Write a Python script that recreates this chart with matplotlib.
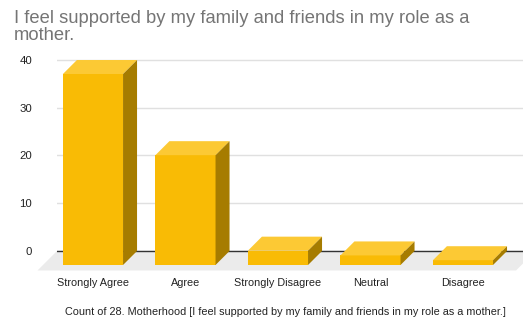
import matplotlib
matplotlib.use("Agg")
import matplotlib.pyplot as plt
from matplotlib.patches import Polygon

# Survey responses
categories = ["Strongly Agree", "Agree", "Strongly Disagree", "Neutral", "Disagree"]
counts = [40, 23, 3, 2, 1]
yticks = [0, 10, 20, 30, 40]
title_lines = ["I feel supported by my family and friends in my role as a", "mother."]
xlabel = "Count of 28. Motherhood [I feel supported by my family and friends in my role as a mother.]"

plt.rcParams['font.family'] = ['Liberation Sans', 'DejaVu Sans']

FRONT = "#f9bb05"
TOP = "#fcc934"
SIDE = "#a67c00"
FLOOR = "#ebebeb"

W, H = 523, 321
fig = plt.figure(figsize=(W / 100, H / 100), dpi=100)
ax_left, ax_right, ax_top, ax_bottom = 57, 523, 55, 275
ax = fig.add_axes([ax_left / W, (H - ax_bottom) / H,
                   (ax_right - ax_left) / W, (ax_bottom - ax_top) / H])
xlim = (-0.389, 4.649)
ylim = (-5.03, 41.05)
ax.set_xlim(*xlim)
ax.set_ylim(*ylim)

# oblique depth of the 3D bars, converted from pixels to data units
px_x = (ax_right - ax_left) / (xlim[1] - xlim[0])
px_y = (ax_bottom - ax_top) / (ylim[1] - ylim[0])
depth_px = 14
dx = depth_px / px_x
dy = depth_px / px_y
floor_px = 19.5
fdx = floor_px / px_x
fdy = floor_px / px_y
bw = 0.65

# floor of the 3D box
front_right = xlim[1] - 7 / px_x
floor = Polygon([(xlim[0] - fdx, -fdy), (front_right, -fdy),
                 (front_right + fdx, 0), (xlim[0], 0)],
                closed=True, facecolor=FLOOR, edgecolor="none",
                zorder=1, clip_on=False)
ax.add_patch(floor)
ax.axhline(0, color="#333333", lw=1, zorder=2)

for i, v in enumerate(counts):
    x0, x1 = i - bw / 2, i + bw / 2
    front = Polygon([(x0, -dy), (x1, -dy), (x1, v - dy), (x0, v - dy)],
                    closed=True, facecolor=FRONT, edgecolor="none", zorder=3, clip_on=False)
    top = Polygon([(x0, v - dy), (x1, v - dy), (x1 + dx, v), (x0 + dx, v)],
                  closed=True, facecolor=TOP, edgecolor="none", zorder=3, clip_on=False)
    side = Polygon([(x1, -dy), (x1 + dx, 0), (x1 + dx, v), (x1, v - dy)],
                   closed=True, facecolor=SIDE, edgecolor="none", zorder=3, clip_on=False)
    for p in (front, top, side):
        ax.add_patch(p)

ax.set_yticks(yticks)
ax.set_yticklabels([str(t) for t in yticks])
ax.set_xticks(range(len(categories)))
ax.set_xticklabels(categories)
ax.tick_params(axis="y", length=0, pad=18, labelsize=8.2, labelcolor="#222222")
ax.tick_params(axis="x", length=0, pad=2, labelsize=7.8, labelcolor="#222222")
ax.yaxis.grid(True, color="#e0e0e0", lw=1)
ax.set_axisbelow(True)
for s in ax.spines.values():
    s.set_visible(False)

for line, base in zip(title_lines, (23, 40)):
    fig.text(14 / W, 1 - base / H, line, ha="left", va="baseline",
             fontsize=13.2, color="#757575")
fig.text(285.5 / W, 1 - 312 / H, xlabel, ha="center", va="center",
         fontsize=7.8, color="#222222")

fig.savefig("out.png", dpi=100)
